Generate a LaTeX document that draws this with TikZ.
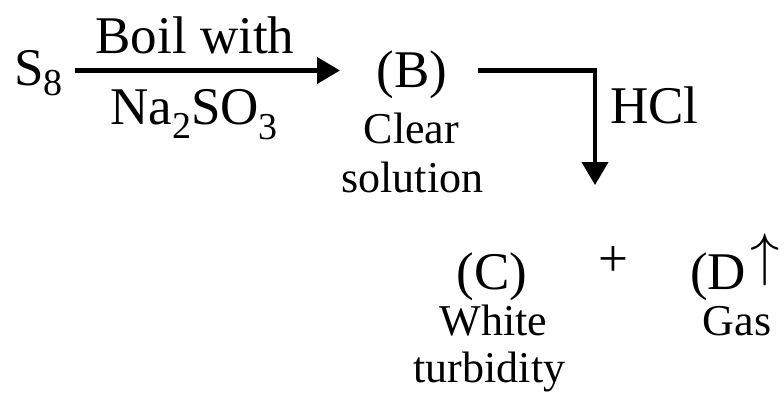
\documentclass[tikz,border=0pt]{standalone}
\usepackage{fontspec}
\setmainfont{Liberation Serif}
\usetikzlibrary{arrows.meta}
\newcommand\chsub[2][12pt]{\raisebox{-#1}{\fontsize{38}{40}\selectfont #2}}
\newcommand\gasarrow{\raisebox{3pt}{\resizebox{!}{52pt}{\raisebox{\depth}{$\uparrow$}}}}
\tikzset{
  big/.style={inner sep=0pt, font=\fontsize{53}{60}\selectfont},
  small/.style={inner sep=0pt, font=\fontsize{44}{50}\selectfont},
  rxn/.style={line width=4pt, -{Triangle[length=23pt,width=26pt]}}
}
\begin{document}
\begin{tikzpicture}[x=1pt,y=-1pt]
\useasboundingbox (0,0) rectangle (784,396);
\node[big, anchor=base west] (S) at (14,85) {S\chsub[10pt]{8}};
\node[big, anchor=base] (boil) at (195,53) {Boil with};
\node[big, anchor=base] (na) at (194,124) {Na\chsub[14pt]{2}SO\chsub[15pt]{3}};
\coordinate (a1s) at (75,70.5);
\coordinate (a1e) at (340,70.5);
\draw[rxn] (a1s) -- (a1e);
\node[big, anchor=base] (B) at (412,87) {(B)};
\node[small, anchor=base] (clear) at (411.5,143) {Clear};
\node[small, anchor=base] (sol) at (412.5,192) {solution};
\coordinate (a2s) at (478,70.5);
\coordinate (a2c) at (595,70.5);
\coordinate (a2e) at (595,185);
\draw[rxn] (a2s) -- (a2c) -- (a2e);
\node[big, anchor=base west] (hcl) at (610,123) {HCl};
\node[big, anchor=base] (C) at (492,289) {(C)};
\node[small, anchor=base] (white) at (493.5,335) {White};
\node[small, anchor=base] (turb) at (489.5,382) {turbidity};
\node[big, anchor=base] (plus) at (613,276) {+};
\node[big, anchor=base west] (D) at (690,289) {(D\kern4pt\gasarrow};
\node[small, anchor=base] (gas) at (737,335) {Gas};
\end{tikzpicture}
\end{document}
